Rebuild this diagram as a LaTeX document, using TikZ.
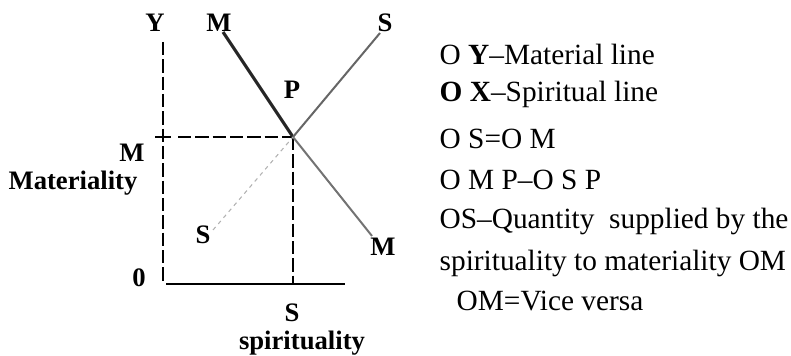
\documentclass[tikz,border=0pt]{standalone}
\usepackage{fontspec}
\setmainfont{Liberation Serif}
\usepackage{tikz}
\usepackage{xcolor}

\begin{document}
\begin{tikzpicture}[x=0.75pt,y=-0.75pt,
  lbl/.style={font=\fontsize{20}{22}\selectfont\bfseries},
  note/.style={anchor=base west,font=\fontsize{22}{24}\selectfont},
  axisdash/.style={line width=1.7pt,dash pattern=on 10pt off 3pt}]
\useasboundingbox (0,0) rectangle (791,356);
% axes and guide lines
\coordinate (O) at (163,284);
\coordinate (Ytop) at (163,42);
\coordinate (Xend) at (345,284);
\coordinate (Mtick) at (163,137);
\coordinate (P) at (293,137);
\coordinate (Sfoot) at (293,284);
\coordinate (Mhigh) at (223,32);
\coordinate (Mlow) at (372,236);
\coordinate (Shigh) at (380,33);
\coordinate (Slow) at (213,230);
\draw[axisdash] (Ytop) -- (O);
\draw[line width=1.9pt] (O) ++(3,0) -- (Xend);
\draw[line width=1.3pt] (Mtick) ++(-8,0) -- ++(16,0);
\draw[axisdash] (Mtick) ++(15,0) -- (P);
\draw[axisdash] (P) -- (Sfoot);
% the two crossing lines
\draw[line width=2.3pt,black!85] (Mhigh) -- (P);
\draw[line width=1.5pt,black!55] (P) -- (Mlow);
\draw[line width=1.5pt,black!60] (P) -- (Shigh);
\draw[line width=0.8pt,black!30,dash pattern=on 3pt off 3pt] (Slow) -- (P);
% labels of the diagram
\node[lbl] (ylbl) at (155,23) {Y};
\node[lbl] (mtop) at (219,23) {M};
\node[lbl] (stop) at (385,23) {S};
\node[lbl] (plbl) at (292,90) {P};
\node[lbl] (mleft) at (132,153) {M};
\node[lbl] (matl) at (73,183) {Materiality};
\node[lbl] (slow) at (203,235) {S};
\node[lbl] (olbl) at (139,278) {0};
\node[lbl] (mlow) at (383,247) {M};
\node[lbl] (sfoot) at (292,313) {S};
\node[lbl] (spir) at (302,343) {spirituality};
% notes on the right
\node[note] (n1) at (435,65) {O \textbf{Y}--Material line};
\node[note] (n2) at (435,102) {\textbf{O X}--Spiritual line};
\node[note] (n3) at (435,148) {O S=O M};
\node[note] (n4) at (435,189) {O M P--O S P};
\node[note] (n5) at (435,228) {OS--Quantity\ \ supplied by the};
\node[note] (n6) at (435,270) {spirituality to materiality OM};
\node[note] (n7) at (452,310) {OM=Vice versa};
\end{tikzpicture}
\end{document}
